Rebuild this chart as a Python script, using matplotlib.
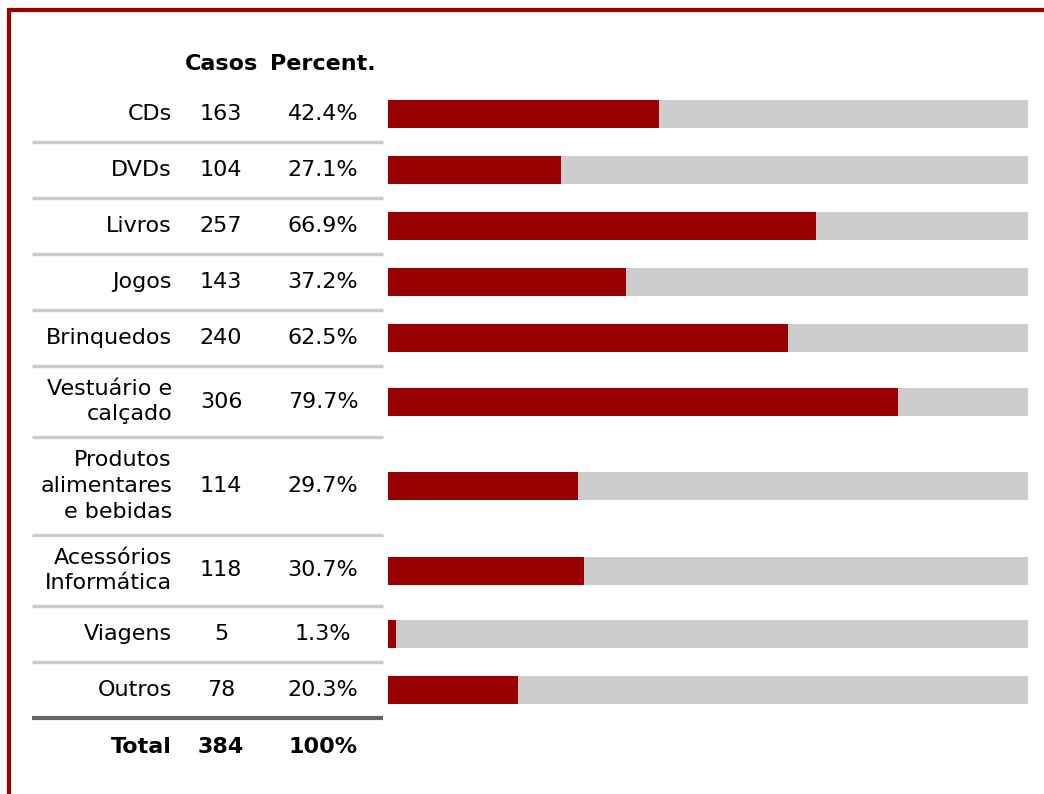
import numpy as np
import matplotlib.pyplot as plt

categorias = ['CDs', 'DVDs', 'Livros', 'Jogos', 'Brinquedos',
              'Vestuário e\ncalçado', 'Produtos\nalimentares\ne bebidas',
              'Acessórios\nInformática', 'Viagens', 'Outros']
casos = [163, 104, 257, 143, 240, 306, 114, 118, 5, 78]
percent = [42.4, 27.1, 66.9, 37.2, 62.5, 79.7, 29.7, 30.7, 1.3, 20.3]
total_casos = 384
total_pct = '100%'

red = '#990000'
grey = '#cccccc'
W, H = 1044, 794
fs = 16

# row heights in pixels (depend on number of text lines)
alturas = {1: 56, 2: 71, 3: 98}
topo = 86
limites = [topo]
for c in categorias:
    limites.append(limites[-1] + alturas[c.count('\n') + 1])
centros = [(a + b) / 2 for a, b in zip(limites[:-1], limites[1:])]

fig = plt.figure(figsize=(W / 100, H / 100), dpi=100)
ax = fig.add_axes([0, 0, 1, 1])
ax.set_xlim(0, W)
ax.set_ylim(H, 0)
ax.axis('off')

# red frame (top + left)
ax.plot([9, W], [10, 10], color=red, lw=3.0, solid_capstyle='butt')
ax.plot([9, 9], [8, H], color=red, lw=3.0, solid_capstyle='butt')

# header
ax.text(221, 64, 'Casos', ha='center', va='center', fontsize=fs, fontweight='bold')
ax.text(323, 64, 'Percent.', ha='center', va='center', fontsize=fs, fontweight='bold')

for i, (cat, n, p) in enumerate(zip(categorias, casos, percent)):
    y = centros[i]
    ax.text(172, y, cat, ha='right', va='center', fontsize=fs, linespacing=1.37)
    ax.text(221, y, str(n), ha='center', va='center', fontsize=fs)
    ax.text(323, y, f'{p:.1f}%', ha='center', va='center', fontsize=fs)
    if i < len(categorias) - 1:
        ax.plot([32, 383], [limites[i + 1]] * 2, color=grey, lw=2.4, solid_capstyle='butt')

ax.plot([32, 383], [limites[-1]] * 2, color='#666666', lw=3.0, solid_capstyle='butt')

yt = limites[-1] + 29
ax.text(172, yt, 'Total', ha='right', va='center', fontsize=fs, fontweight='bold')
ax.text(221, yt, str(total_casos), ha='center', va='center', fontsize=fs, fontweight='bold')
ax.text(323, yt, total_pct, ha='center', va='center', fontsize=fs, fontweight='bold')

# bars
bx = fig.add_axes([388 / W, 0, 640 / W, 1])
bx.set_xlim(0, 100)
bx.set_ylim(H, 0)
bx.axis('off')
bx.barh(centros, [100] * len(percent), height=28, color=grey)
bx.barh(centros, percent, height=28, color=red)

fig.savefig('out.png', dpi=100)
